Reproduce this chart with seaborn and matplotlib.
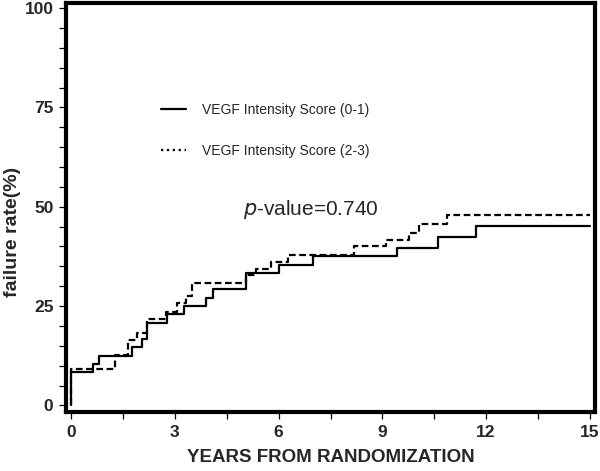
import numpy as np
import pandas as pd
import matplotlib
matplotlib.use("Agg")
import matplotlib.pyplot as plt
from matplotlib.lines import Line2D
from matplotlib.ticker import MultipleLocator
import seaborn as sns

# Step curves (years, cumulative failure %)
low_years = [0, 0, 0.64, 0.79, 1.75, 2.04, 2.2, 2.76, 3.26, 3.91, 4.1, 5.07,
             6.0, 6.99, 9.42, 10.62, 11.7, 15.0]
low_rate = [0, 8.4, 10.4, 12.5, 14.6, 16.7, 20.8, 22.9, 25.0, 27.1, 29.2, 33.3,
            35.4, 37.5, 39.6, 42.4, 45.2, 45.2]

high_years = [0, 0, 1.27, 1.65, 1.9, 2.2, 2.74, 3.07, 3.33, 3.48, 5.05, 5.34,
              5.79, 6.27, 8.19, 9.1, 9.78, 10.07, 10.88, 15.0]
high_rate = [0, 9.1, 12.7, 16.4, 18.3, 21.7, 23.6, 25.7, 27.5, 30.7, 32.8, 34.3,
             36.2, 37.9, 40.0, 41.7, 43.5, 45.6, 47.9, 47.9]

group_labels = ["VEGF Intensity Score (0-1)", "VEGF Intensity Score (2-3)"]
p_text = "-value=0.740"

df = pd.concat([
    pd.DataFrame({"years": low_years, "rate": low_rate, "group": group_labels[0]}),
    pd.DataFrame({"years": high_years, "rate": high_rate, "group": group_labels[1]}),
], ignore_index=True)

sns.set_style("ticks")
plt.rcParams["font.family"] = ["Liberation Sans", "DejaVu Sans"]

fig = plt.figure(figsize=(6, 4.71), dpi=100)
ax = fig.add_axes([0.11, 0.125, 0.8817, 0.8686])

sns.lineplot(data=df, x="years", y="rate", style="group",
             dashes={group_labels[0]: "", group_labels[1]: (3, 1.6)},
             estimator=None, sort=False, drawstyle="steps-post",
             color="black", linewidth=1.6, legend=False, ax=ax)

ax.set_xlim(-0.15, 15.15)
ax.set_ylim(-1.7, 101.3)
ax.xaxis.set_major_locator(MultipleLocator(3))
ax.xaxis.set_minor_locator(MultipleLocator(1.5))
ax.yaxis.set_major_locator(MultipleLocator(25))
ax.yaxis.set_minor_locator(MultipleLocator(5))
ax.tick_params(which="both", direction="out", length=5, width=0.9, color="black")
ax.tick_params(axis="both", which="major", labelsize=12.5, pad=4)
for lab in ax.get_xticklabels() + ax.get_yticklabels():
    lab.set_fontweight("bold")

for side in ["left", "right", "top", "bottom"]:
    ax.spines[side].set_visible(True)
    ax.spines[side].set_linewidth(3)
    ax.spines[side].set_color("black")

ax.set_xlabel("YEARS FROM RANDOMIZATION", fontsize=13.5, fontweight="bold", labelpad=7)
ax.set_ylabel("failure rate(%)", fontsize=14, fontweight="bold")
ax.yaxis.set_label_coords(-0.086, 0.44)

ax.text(4.96, 49.2, "$\\it{p}$" + p_text, fontsize=15, va="center", ha="left")

handles = [Line2D([], [], color="black", linewidth=1.6, linestyle="-"),
           Line2D([], [], color="black", linewidth=1.6, linestyle=":")]
ax.legend(handles, group_labels, loc="upper left", bbox_to_anchor=(0.18, 0.755),
          frameon=False, fontsize=10, handlelength=1.8, handletextpad=1.1,
          labelspacing=1.9, borderpad=0, borderaxespad=0)

fig.savefig("out.png", dpi=100)
